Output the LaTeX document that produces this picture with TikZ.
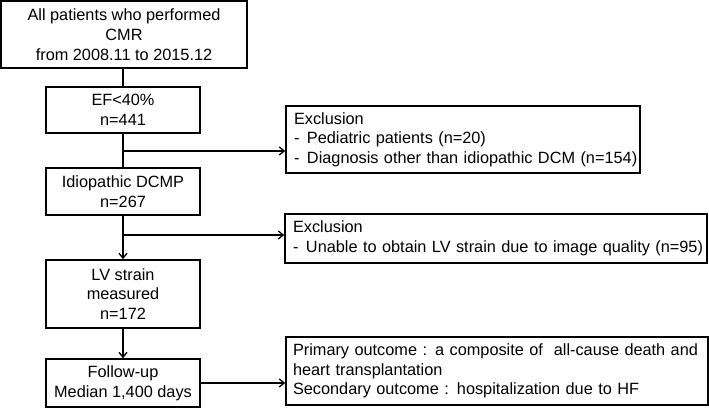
\documentclass[tikz,border=0pt]{standalone}
\usepackage{fontspec}
\setmainfont{Liberation Sans}
\usetikzlibrary{arrows.meta}
\begin{document}
\begin{tikzpicture}[x=1pt,y=-1pt,
 box/.style={draw, line width=1.4pt, align=center, inner sep=0pt, font=\fontsize{16.3}{19.7}\selectfont},
 lbox/.style={box, align=left, inner xsep=8pt},
 arr/.style={line width=1.3pt, -{Straight Barb[length=5pt,width=8pt]}},
 ln/.style={line width=1.3pt}]
\useasboundingbox (0,0) rectangle (709,409);
\node[box, minimum width=246pt, minimum height=67pt] (b1) at (124,34.5) {All patients who performed\\CMR\\from 2008.11 to 2015.12};
\node[box, minimum width=154pt, minimum height=46pt] (b2) at (123,110) {EF<40\%\\n=441};
\node[box, minimum width=154pt, minimum height=47pt] (b3) at (123,191.5) {Idiopathic DCMP\\n=267};
\node[box, minimum width=154pt, minimum height=68pt] (b4) at (123,294) {LV strain\\measured\\n=172};
\node[box, minimum width=154pt, minimum height=48pt] (b5) at (123,383) {Follow-up\\Median 1,400 days};
\node[lbox, text width=338pt, minimum height=67pt] (e1) at (463,139.5) {\mbox{Exclusion}\\\mbox{\makebox[13pt][l]{-}Pediatric patients (n=20)}\\\mbox{\makebox[13pt][l]{-}Diagnosis other than idiopathic DCM (n=154)}};
\node[lbox, text width=406pt, minimum height=49pt] (e2) at (496,238.5) {\mbox{Exclusion}\\\mbox{\makebox[13pt][l]{-}Unable to obtain LV strain due to image quality (n=95)}};
\node[lbox, inner xsep=7pt, text width=408pt, minimum height=68pt] (o) at (497,371) {\mbox{Primary outcome : a composite of \ all-cause death and}\\\mbox{heart transplantation}\\\mbox{Secondary outcome : hospitalization due to HF}};
\coordinate (j1) at (123,151);
\coordinate (j2) at (123,235);
\draw[ln] (b2.north |- b1.south) -- (b2.north);
\draw[ln] (b2.south) -- (b3.north);
\draw[arr] (j1) -- (e1.west |- j1);
\draw[arr] (b3.south) -- (b4.north);
\draw[arr] (j2) -- (e2.west |- j2);
\draw[arr] (b4.south) -- (b5.north);
\draw[arr] (b5.east) -- (o.west |- b5.east);
\end{tikzpicture}
\end{document}
